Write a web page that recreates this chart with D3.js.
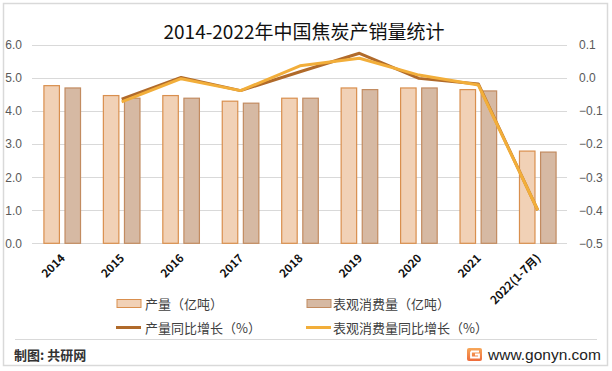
<!DOCTYPE html>
<html><head><meta charset="utf-8">
<script src="https://cdn.jsdelivr.net/npm/d3@7/dist/d3.min.js"></script>
<style>
html,body{margin:0;padding:0;background:#fff;}
svg{display:block;font-family:"Noto Sans CJK SC","Noto Sans",sans-serif;}
</style></head>
<body><svg id="c" width="612" height="371"></svg>
<script>
const categories = ["2014","2015","2016","2017","2018","2019","2020","2021","2022(1-7月)"];
const production = [4.77,4.47,4.47,4.30,4.39,4.70,4.70,4.65,2.79];
const consumption = [4.70,4.39,4.39,4.24,4.39,4.65,4.70,4.61,2.76];
const prodGrowth = [null,-0.064,0.002,-0.038,0.019,0.075,-0.001,-0.018,-0.40];
const consGrowth = [null,-0.072,-0.002,-0.038,0.037,0.060,0.009,-0.021,-0.40];
const leftTicks = [0,1,2,3,4,5,6];
const rightTicks = [0.1,0,-0.1,-0.2,-0.3,-0.4,-0.5];
const title = "2014-2022年中国焦炭产销量统计";
const seriesNames = ["产量（亿吨）","表观消费量（亿吨）","产量同比增长（%）","表观消费量同比增长（%）"];

const svg = d3.select("#c");
const L = 32, R = 567, T = 45, B = 243.3;
const x = d3.scaleBand().domain(categories).range([L, R]);
const yL = d3.scaleLinear().domain([0, 6]).range([B, T]);
const yR = d3.scaleLinear().domain([-0.5, 0.1]).range([B, T]);

const C = {pf:"#F1D1B6", ps:"#D98F4E", cf:"#D6B9A3", cs:"#C28B60", pl:"#B06A2A", cl:"#F2AE3A"};

// outer border
svg.append("rect").attr("x",3.5).attr("y",3.5).attr("width",604).attr("height",362)
  .attr("fill","#fff").attr("stroke","#D9D9D9").attr("stroke-width",1.5);

// title
svg.append("text").attr("x",304).attr("y",39).attr("text-anchor","middle")
  .attr("font-size",19).attr("fill","#111").text(title);

// gridlines
svg.append("g").selectAll("line").data(leftTicks).join("line")
  .attr("x1",L).attr("x2",R).attr("y1",d=>Math.round(yL(d))+0.5).attr("y2",d=>Math.round(yL(d))+0.5)
  .attr("stroke","#D9D9D9").attr("stroke-width",1);

// left axis
const gl = svg.append("g").attr("transform",`translate(${L},0)`)
  .call(d3.axisLeft(yL).tickValues(leftTicks).tickFormat(d3.format(".1f")).tickSize(0).tickPadding(10));
gl.select(".domain").remove();
gl.selectAll("text").attr("font-size",12).attr("fill","#595959").attr("font-family","'Liberation Sans',sans-serif");

// right axis
const gr = svg.append("g").attr("transform",`translate(${R},0)`)
  .call(d3.axisRight(yR).tickValues(rightTicks).tickFormat(d3.format(".1f")).tickSize(0).tickPadding(12));
gr.select(".domain").remove();
gr.selectAll("text").attr("font-size",12).attr("fill","#595959").attr("font-family","'Liberation Sans',sans-serif");

// bars
const bw = 15.5, off = 2.3;
const gb = svg.append("g");
gb.selectAll("rect.p").data(categories).join("rect").attr("class","p")
  .attr("x",(d)=>x(d)+x.bandwidth()/2-off-bw).attr("width",bw)
  .attr("y",(d,i)=>yL(production[i])).attr("height",(d,i)=>yL(0)-yL(production[i]))
  .attr("fill",C.pf).attr("stroke",C.ps).attr("stroke-width",1.2);
gb.selectAll("rect.c").data(categories).join("rect").attr("class","c")
  .attr("x",(d)=>x(d)+x.bandwidth()/2+off+1).attr("width",bw)
  .attr("y",(d,i)=>yL(consumption[i])).attr("height",(d,i)=>yL(0)-yL(consumption[i]))
  .attr("fill",C.cf).attr("stroke",C.cs).attr("stroke-width",1.2);

// lines
const line = d3.line().defined(d=>d.v!==null).x(d=>x(d.c)+x.bandwidth()/2+0.5).y(d=>yR(d.v));
svg.append("path").datum(categories.map((c,i)=>({c,v:prodGrowth[i]})))
  .attr("d",line).attr("fill","none").attr("stroke",C.pl).attr("stroke-width",3).attr("stroke-linejoin","round");
svg.append("path").datum(categories.map((c,i)=>({c,v:consGrowth[i]})))
  .attr("d",line).attr("fill","none").attr("stroke",C.cl).attr("stroke-width",3).attr("stroke-linejoin","round");

// x labels
svg.append("g").selectAll("text").data(categories).join("text")
  .attr("transform",d=>`translate(${x(d)+x.bandwidth()/2+4},${259}) rotate(-45)`)
  .attr("text-anchor","end").attr("font-size",11.5).attr("font-weight","bold").attr("fill","#111")
  .attr("font-family","'Noto Sans CJK SC',sans-serif").text(d=>d);

// legend
const lg = svg.append("g").attr("font-size",13).attr("fill","#404040");
lg.append("rect").attr("x",117).attr("y",299.5).attr("width",24).attr("height",8).attr("fill",C.pf).attr("stroke",C.ps);
lg.append("text").attr("x",145).attr("y",308.5).text(seriesNames[0]);
lg.append("rect").attr("x",307).attr("y",299.5).attr("width",24).attr("height",8).attr("fill",C.cf).attr("stroke",C.cs);
lg.append("text").attr("x",333).attr("y",308.5).text(seriesNames[1]);
lg.append("line").attr("x1",116).attr("x2",141).attr("y1",327.5).attr("y2",327.5).attr("stroke",C.pl).attr("stroke-width",3);
lg.append("text").attr("x",145).attr("y",332.5).text(seriesNames[2]);
lg.append("line").attr("x1",306).attr("x2",331).attr("y1",327.5).attr("y2",327.5).attr("stroke",C.cl).attr("stroke-width",3);
lg.append("text").attr("x",333).attr("y",332.5).text(seriesNames[3]);

// footer
svg.append("line").attr("x1",15).attr("x2",597).attr("y1",339.5).attr("y2",339.5).attr("stroke","#D9D9D9");
svg.append("text").attr("x",14).attr("y",360).attr("font-size",13).attr("font-weight","bold").attr("fill","#333").text("制图: 共研网");
const defs = svg.append("defs");
const gradient = defs.append("linearGradient").attr("id","lg1").attr("x1",0).attr("y1",0).attr("x2",0).attr("y2",1);
gradient.append("stop").attr("offset","0").attr("stop-color","#F7A85A");
gradient.append("stop").attr("offset","1").attr("stop-color","#EE6B3A");
svg.append("rect").attr("x",467).attr("y",348).attr("width",15).attr("height",13).attr("rx",2).attr("fill","url(#lg1)");
svg.append("path").attr("d","M471,351.5 H479 M471,351.5 V357.5 H479 V354.5 H475").attr("stroke","#fff").attr("stroke-width",1.8).attr("fill","none");
svg.append("text").attr("x",488).attr("y",360).attr("font-size",15.5).attr("fill","#222")
  .attr("font-family","'Liberation Sans',sans-serif").text("www.gonyn.com");
</script></body></html>
